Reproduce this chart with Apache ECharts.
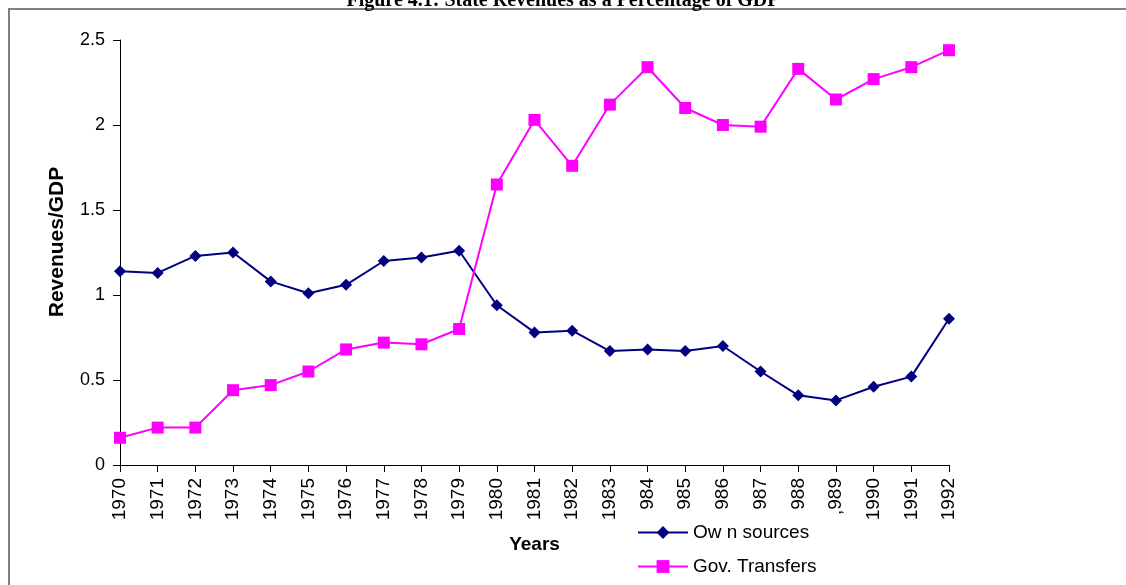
<!DOCTYPE html>
<html>
<head>
<meta charset="utf-8">
<script src="https://cdn.jsdelivr.net/npm/echarts@6/dist/echarts.min.js"></script>
<style>
  html, body { margin: 0; padding: 0; background: #fff; }
  #chart { width: 1126px; height: 585px; }
</style>
</head>
<body>
<div id="chart"></div>
<script>
// Years on the x axis, as printed under each tick
const yearLabels = ['1970','1971','1972','1973','1974','1975','1976','1977','1978','1979',
  '1980','1981','1982','1983','984','985','986','987','988',',989','1990','1991','1992'];

// State revenues from own sources, share of GDP
const ownSources = [1.14, 1.13, 1.23, 1.25, 1.08, 1.01, 1.06, 1.20, 1.22, 1.26,
  0.94, 0.78, 0.79, 0.67, 0.68, 0.67, 0.70, 0.55, 0.41, 0.38, 0.46, 0.52, 0.86];

// Government transfers, share of GDP
const govTransfers = [0.16, 0.22, 0.22, 0.44, 0.47, 0.55, 0.68, 0.72, 0.71, 0.80,
  1.65, 2.03, 1.76, 2.12, 2.34, 2.10, 2.00, 1.99, 2.33, 2.15, 2.27, 2.34, 2.44];

const yTicks = [0, 0.5, 1, 1.5, 2, 2.5];

const chart = echarts.init(document.getElementById('chart'), null, { renderer: 'canvas' });

const sans = '"Liberation Sans", Arial, sans-serif';

chart.setOption({
  animation: false,
  backgroundColor: '#ffffff',
  title: {
    text: 'Figure 4.1: State Revenues as a Percentage of GDP',
    left: 'center',
    top: -14,
    textStyle: {
      fontFamily: '"Liberation Serif", "Times New Roman", serif',
      fontWeight: 'bold',
      fontSize: 20,
      color: '#000'
    }
  },
  graphic: [
    {
      // chart frame
      type: 'rect',
      shape: { x: 9, y: 9, width: 1300, height: 700 },
      style: { fill: 'none', stroke: '#808080', lineWidth: 2 },
      z: -1
    },
    {
      // value axis title
      type: 'text',
      x: 57,
      y: 242,
      rotation: Math.PI / 2,
      style: {
        text: 'Revenues/GDP',
        fontFamily: sans,
        fontWeight: 'bold',
        fontSize: 21,
        fill: '#000',
        align: 'center',
        verticalAlign: 'middle'
      }
    }
  ],
  grid: { left: 120, right: 177, top: 40, bottom: 120 },
  legend: {
    orient: 'vertical',
    left: 632,
    top: 518,
    itemGap: 15,
    itemWidth: 50,
    itemHeight: 16,
    textStyle: { fontFamily: sans, fontSize: 19, color: '#000' },
    data: ['Ow n sources', 'Gov. Transfers']
  },
  xAxis: {
    type: 'category',
    data: yearLabels,
    boundaryGap: false,
    name: 'Years',
    nameLocation: 'middle',
    nameGap: 70,
    nameTextStyle: { fontFamily: sans, fontSize: 19, fontWeight: 'bold', color: '#000' },
    axisLine: { lineStyle: { color: '#000', width: 1 } },
    axisTick: { alignWithLabel: true, length: 7, lineStyle: { color: '#000' } },
    axisLabel: {
      interval: 0,
      rotate: 90,
      margin: 13,
      fontFamily: sans,
      fontSize: 19,
      color: '#000'
    },
    splitLine: { show: false }
  },
  yAxis: {
    type: 'value',
    min: 0,
    max: 2.5,
    interval: 0.5,
    axisLine: { show: true, lineStyle: { color: '#000', width: 1 } },
    axisTick: { show: true, length: 7, lineStyle: { color: '#000' } },
    axisLabel: {
      margin: 15,
      fontFamily: sans,
      fontSize: 18,
      color: '#000',
      formatter: v => (yTicks.includes(v) ? String(v) : '')
    },
    splitLine: { show: false }
  },
  series: [
    {
      name: 'Ow n sources',
      type: 'line',
      data: ownSources,
      symbol: 'diamond',
      symbolSize: 12,
      color: '#000080',
      lineStyle: { color: '#000080', width: 2 },
      itemStyle: { color: '#000080' }
    },
    {
      name: 'Gov. Transfers',
      type: 'line',
      data: govTransfers,
      symbol: 'rect',
      symbolSize: 12,
      color: '#FF00FF',
      lineStyle: { color: '#FF00FF', width: 2 },
      itemStyle: { color: '#FF00FF' }
    }
  ]
});
</script>
</body>
</html>
